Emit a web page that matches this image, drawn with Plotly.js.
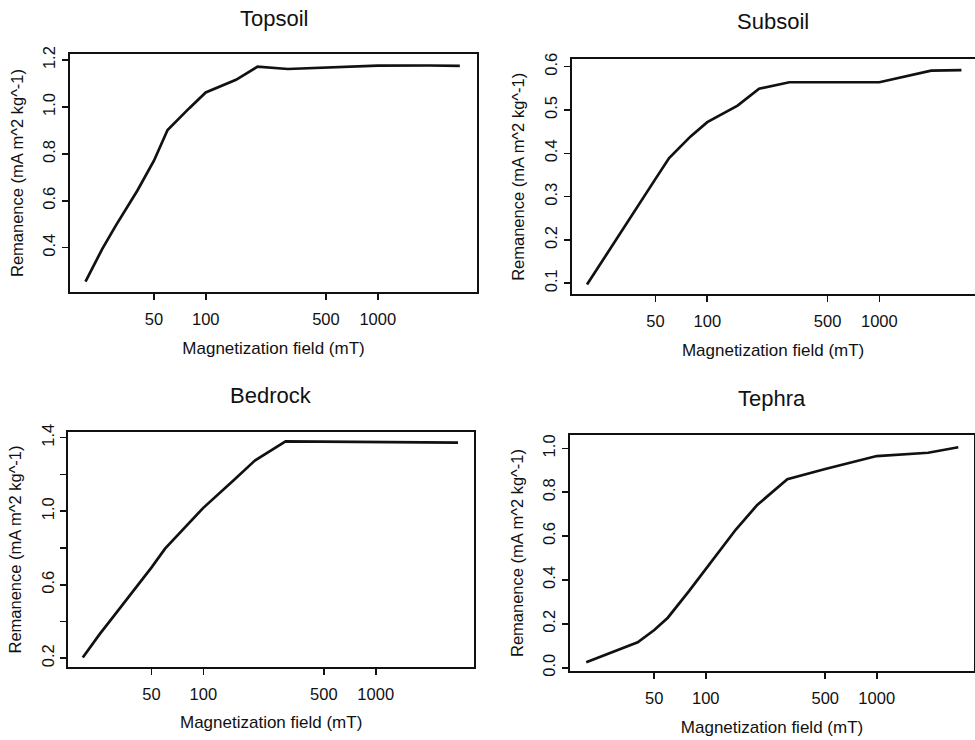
<!DOCTYPE html>
<html>
<head>
<meta charset="utf-8">
<script src="https://cdn.plot.ly/plotly-3.0.1.min.js"></script>
<style>html,body{margin:0;padding:0;background:#fff;}#chart{width:975px;height:740px;}</style>
</head>
<body>
<div id="chart"></div>
<script>
// ---- data ----
const panelTitles = ["Topsoil", "Subsoil", "Bedrock", "Tephra"];
const xTickVals = [50, 100, 500, 1000];
const xTickText = ["50", "100", "500", "1000"];
const xLabel = "Magnetization field (mT)";
const yLabel = "Remanence (mA m^2 kg^-1)";

const topsoilField = [20, 25, 30, 40, 50, 60, 80, 100, 150, 200, 300, 500, 1000, 2000, 3000];
const topsoilRem   = [0.255, 0.394, 0.494, 0.643, 0.771, 0.902, 0.994, 1.062, 1.116, 1.172, 1.162, 1.168, 1.176, 1.177, 1.175];

const subsoilField = [20, 30, 40, 50, 60, 80, 100, 150, 200, 300, 500, 1000, 2000, 3000];
const subsoilRem   = [0.097, 0.206, 0.281, 0.341, 0.389, 0.439, 0.472, 0.510, 0.549, 0.564, 0.564, 0.564, 0.591, 0.592];

const bedrockField = [20, 25, 30, 40, 50, 60, 80, 100, 150, 200, 300, 500, 1000, 2000, 3000];
const bedrockRem   = [0.204, 0.330, 0.425, 0.575, 0.693, 0.796, 0.920, 1.018, 1.168, 1.277, 1.380, 1.378, 1.376, 1.374, 1.373];

const tephraField = [20, 30, 40, 50, 60, 80, 100, 150, 200, 300, 500, 1000, 2000, 3000];
const tephraRem   = [0.025, 0.078, 0.116, 0.172, 0.228, 0.350, 0.451, 0.630, 0.742, 0.859, 0.906, 0.965, 0.980, 1.005];

const topsoilYTicks = [0.4, 0.6, 0.8, 1.0, 1.2];
const topsoilYText  = ["0.4", "0.6", "0.8", "1.0", "1.2"];
const subsoilYTicks = [0.1, 0.2, 0.3, 0.4, 0.5, 0.6];
const subsoilYText  = ["0.1", "0.2", "0.3", "0.4", "0.5", "0.6"];
const bedrockYTicks = [0.2, 0.4, 0.6, 0.8, 1.0, 1.2, 1.4];
const bedrockYText  = ["0.2", "", "0.6", "", "1.0", "", "1.4"];
const tephraYTicks  = [0.0, 0.2, 0.4, 0.6, 0.8, 1.0];
const tephraYText   = ["0.0", "0.2", "0.4", "0.6", "0.8", "1.0"];

// ---- layout geometry (pixels of the 975x740 page) ----
const W = 975, H = 740;
const boxes = [
  {l: 70,    r: 477,   t: 54,    b: 292,   xr: [1.211, 3.577], yr: [0.211, 1.226], ty: 18.5},
  {l: 571.7, r: 974.5, t: 59.3,  b: 294.3, xr: [1.212, 3.553], yr: [0.0746, 0.617], ty: 21.5},
  {l: 68.3,  r: 474,   t: 432.3, b: 666.7, xr: [1.217, 3.570], yr: [0.154, 1.429], ty: 395},
  {l: 570,   r: 974,   t: 435,   b: 671,   xr: [1.206, 3.569], yr: [-0.015, 1.061], ty: 398.5}
];
const series = [
  [topsoilField, topsoilRem, topsoilYTicks, topsoilYText],
  [subsoilField, subsoilRem, subsoilYTicks, subsoilYText],
  [bedrockField, bedrockRem, bedrockYTicks, bedrockYText],
  [tephraField, tephraRem, tephraYTicks, tephraYText]
];

const FONT = "Liberation Sans, Arial, Helvetica, sans-serif";
const INK = "#111";
const traces = [];
const layout = {
  width: W, height: H,
  margin: {l: 0, r: 0, t: 0, b: 0},
  paper_bgcolor: "#fff", plot_bgcolor: "#fff",
  showlegend: false,
  font: {family: FONT, color: INK, size: 16},
  annotations: []
};

series.forEach((s, i) => {
  const bx = boxes[i];
  const n = i + 1;
  const xa = n === 1 ? "x" : "x" + n;
  const ya = n === 1 ? "y" : "y" + n;
  traces.push({
    x: s[0], y: s[1], type: "scatter", mode: "lines",
    xaxis: xa, yaxis: ya,
    line: {color: INK, width: 2.7},
    hoverinfo: "skip"
  });
  const xKey = n === 1 ? "xaxis" : "xaxis" + n;
  const yKey = n === 1 ? "yaxis" : "yaxis" + n;
  layout[xKey] = {
    type: "log", range: bx.xr,
    domain: [bx.l / W, bx.r / W],
    anchor: ya,
    tickmode: "array", tickvals: xTickVals, ticktext: xTickText,
    ticks: "outside", ticklen: 6, tickwidth: 1.6, tickcolor: INK,
    ticklabelstandoff: 5,
    tickfont: {family: FONT, size: 16.5, color: INK},
    showline: true, linecolor: INK, linewidth: 2, mirror: true,
    showgrid: false, zeroline: false, fixedrange: true,
    title: {text: xLabel, font: {family: FONT, size: 17, color: INK}, standoff: 15}
  };
  layout[yKey] = {
    range: bx.yr,
    domain: [1 - bx.b / H, 1 - bx.t / H],
    anchor: xa,
    tickmode: "array", tickvals: s[2], ticktext: s[3],
    tickangle: -90,
    ticks: "outside", ticklen: 6, tickwidth: 1.6, tickcolor: INK,
    ticklabelstandoff: 0,
    tickfont: {family: FONT, size: 16.5, color: INK},
    showline: true, linecolor: INK, linewidth: 2, mirror: true,
    showgrid: false, zeroline: false, fixedrange: true,
    title: {text: yLabel, font: {family: FONT, size: 16.5, color: INK}, standoff: 13}
  };
  layout.annotations.push({
    text: panelTitles[i], xref: "paper", yref: "paper",
    x: ((bx.l + Math.min(bx.r, 976.7)) / 2) / W, y: 1 - bx.ty / H,
    xanchor: "center", yanchor: "middle", showarrow: false,
    font: {family: FONT, size: 22, color: INK}
  });
});

Plotly.newPlot("chart", traces, layout, {staticPlot: true, displayModeBar: false});
</script>
</body>
</html>
